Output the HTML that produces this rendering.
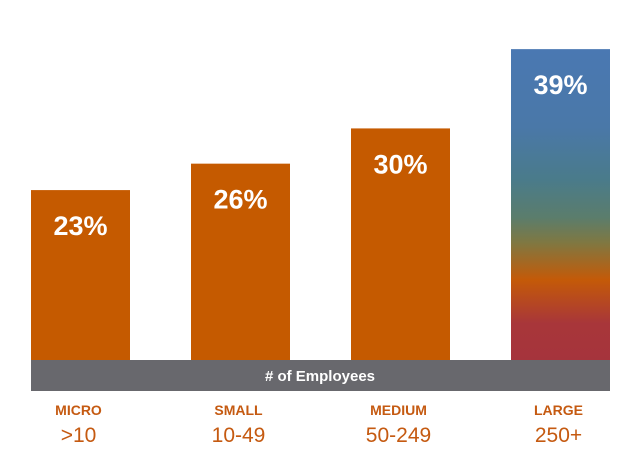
<!DOCTYPE html>
<html><head><meta charset="utf-8"><style>
body{margin:0;background:#fff;font-family:"Liberation Sans",Arial,sans-serif}
svg{display:block}
</style></head><body>
<svg width="641" height="458">
<defs>
<linearGradient id="lg" x1="0" y1="0" x2="0" y2="1">
<stop offset="0" stop-color="#4a78b2"/>
<stop offset="0.25" stop-color="#4a78a8"/>
<stop offset="0.42" stop-color="#4a7b8a"/>
<stop offset="0.54" stop-color="#5b7d6c"/>
<stop offset="0.62" stop-color="#7f7842"/>
<stop offset="0.74" stop-color="#c45a08"/>
<stop offset="0.88" stop-color="#a8363a"/>
<stop offset="1" stop-color="#a5343c"/>
</linearGradient>
</defs>
<g id="bars"></g>
<rect x="31" y="360" width="579" height="31" fill="#68686d"/>
<text x="320" y="381" text-anchor="middle" fill="#fff" font-size="15" font-weight="bold"># of Employees</text>
<g id="labels"></g>
</svg>
<script>
const categories=["MICRO","SMALL","MEDIUM","LARGE"];
const ranges=[">10","10-49","50-249","250+"];
const values=[23,26,30,39];
const valueLabels=["23%","26%","30%","39%"];
const NS="http://www.w3.org/2000/svg";
const base=361, yMin=3.6, pxPer=8.81;
function y(v){return base-(v-yMin)*pxPer;}
function x(i){return 31+i*160;}
const bw=99;
const bars=document.getElementById('bars'), labels=document.getElementById('labels');
values.forEach((v,i)=>{
  const r=document.createElementNS(NS,'rect');
  r.setAttribute('x',x(i));r.setAttribute('y',y(v));r.setAttribute('width',bw);r.setAttribute('height',base-y(v));
  r.setAttribute('fill',i===3?'url(#lg)':'#c55a00');
  
  
  bars.appendChild(r);
  const t=document.createElementNS(NS,'text');
  t.setAttribute('x',x(i)+bw/2);t.setAttribute('y',y(v)+45);
  t.setAttribute('text-anchor','middle');t.setAttribute('fill','#fff');
  t.setAttribute('font-size','27');t.setAttribute('font-weight','bold');
  t.textContent=valueLabels[i];
  
  
  bars.appendChild(t);
  const c=document.createElementNS(NS,'text');
  c.setAttribute('x',x(i)+bw/2-2);c.setAttribute('y',415);
  c.setAttribute('text-anchor','middle');c.setAttribute('fill','#c55a11');
  c.setAttribute('font-size','14');c.setAttribute('font-weight','bold');
  c.textContent=categories[i];
  
  
  labels.appendChild(c);
  const s=document.createElementNS(NS,'text');
  s.setAttribute('x',x(i)+bw/2-2);s.setAttribute('y',442);
  s.setAttribute('text-anchor','middle');s.setAttribute('fill','#c55a11');
  s.setAttribute('font-size','21');
  s.textContent=ranges[i];
  
  
  labels.appendChild(s);
});
</script>
</body></html>
